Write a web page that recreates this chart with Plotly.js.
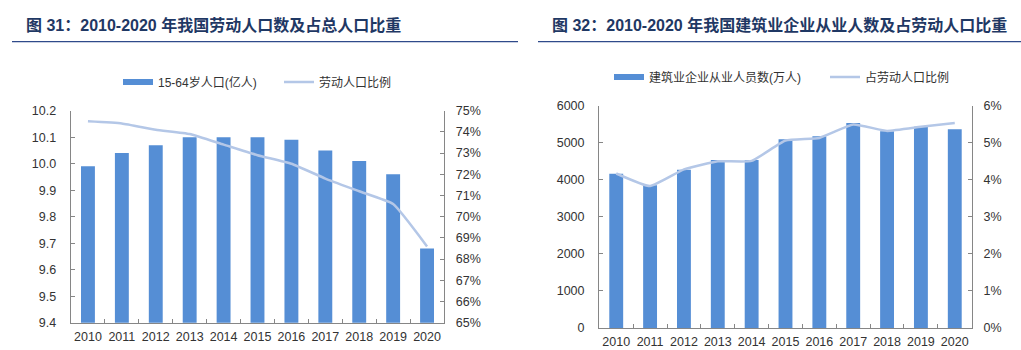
<!DOCTYPE html>
<html>
<head>
<meta charset="utf-8">
<script src="https://cdn.plot.ly/plotly-3.0.1.min.js"></script>
<style>html,body{margin:0;padding:0;background:#fff;}#chart{width:1021px;height:350px;}</style>
</head>
<body>
<div id="chart"></div>
<script>
// ---- data ----
const years = ['2010','2011','2012','2013','2014','2015','2016','2017','2018','2019','2020'];
const workingAgePop = [9.99, 10.04, 10.07, 10.10, 10.10, 10.10, 10.09, 10.05, 10.01, 9.96, 9.68];      // 亿人
const laborShare = [0.745, 0.744, 0.741, 0.739, 0.734, 0.729, 0.725, 0.718, 0.712, 0.706, 0.686];      // 占总人口
const constructionEmp = [4160, 3852, 4272, 4534, 4537, 5094, 5174, 5530, 5309, 5433, 5364];          // 万人
const constructionShare = [0.0417, 0.0383, 0.0428, 0.0450, 0.0451, 0.0506, 0.0513, 0.0549, 0.0532, 0.0543, 0.0553];

const title1 = '图 31：2010-2020 年我国劳动人口数及占总人口比重';
const title2 = '图 32：2010-2020 年我国建筑业企业从业人数及占劳动人口比重';
const name1 = '15-64岁人口(亿人)';
const name2 = '劳动人口比例';
const name3 = '建筑业企业从业人员数(万人)';
const name4 = '占劳动人口比例';

// ---- styling ----
const W = 1021, H = 350;
const px = v => v / W;
const py = v => 1 - v / H;
const barColor = '#558ED5';
const lineColor = '#B4C7E7';
const axisColor = '#868686';
const textColor = '#333333';
const fontFam = 'Liberation Sans, Arial, Noto Sans CJK SC, sans-serif';
const tickFont = {family: fontFam, size: 12.5, color: textColor};
const legFont = {family: fontFam, size: 12, color: textColor};

const traces = [
  {type: 'bar', x: years, y: workingAgePop, xaxis: 'x', yaxis: 'y', marker: {color: barColor}, width: 0.41, showlegend: false, name: name1},
  {type: 'scatter', mode: 'lines', x: years, y: laborShare, xaxis: 'x', yaxis: 'y2', line: {color: lineColor, width: 2.5, shape: 'spline', smoothing: 0.4}, showlegend: false, name: name2},
  {type: 'bar', x: years, y: constructionEmp, xaxis: 'x2', yaxis: 'y3', marker: {color: barColor}, width: 0.41, showlegend: false, name: name3},
  {type: 'scatter', mode: 'lines', x: years, y: constructionShare, xaxis: 'x2', yaxis: 'y4', line: {color: lineColor, width: 2.5, shape: 'spline', smoothing: 0.4}, showlegend: false, name: name4},
  // legend entries
  {type: 'scatter', mode: 'lines', x: [years[0]], y: [null], xaxis: 'x', yaxis: 'y', line: {color: barColor, width: 6}, name: name1, legend: 'legend', hoverinfo: 'skip'},
  {type: 'scatter', mode: 'lines', x: [years[0]], y: [null], xaxis: 'x', yaxis: 'y2', line: {color: lineColor, width: 2.5}, name: name2, legend: 'legend2', hoverinfo: 'skip'},
  {type: 'scatter', mode: 'lines', x: [years[0]], y: [null], xaxis: 'x2', yaxis: 'y3', line: {color: barColor, width: 6}, name: name3, legend: 'legend3', hoverinfo: 'skip'},
  {type: 'scatter', mode: 'lines', x: [years[0]], y: [null], xaxis: 'x2', yaxis: 'y4', line: {color: lineColor, width: 2.5}, name: name4, legend: 'legend4', hoverinfo: 'skip'}
];

const xCommon = {type: 'category', showline: true, linecolor: axisColor, linewidth: 1.3, ticks: 'inside', ticklen: 4, tickcolor: axisColor, tickson: 'boundaries', tickfont: tickFont, showgrid: false, zeroline: false, fixedrange: true, tickangle: 0, ticklabelstandoff: 2};
const yCommon = {showline: true, linecolor: axisColor, linewidth: 1.3, ticks: 'inside', ticklen: 4, tickcolor: axisColor, tickfont: tickFont, showgrid: false, zeroline: false, fixedrange: true};

const d1x = [px(71), px(444)], d1y = [py(322.7), py(110.7)];
const d2x = [px(599.3), px(971.7)], d2y = [py(328), py(105.7)];

const legBase = {orientation: 'h', xanchor: 'left', yanchor: 'middle', font: legFont, itemwidth: 30, bgcolor: 'rgba(0,0,0,0)', borderwidth: 0};

const layout = {
  width: W, height: H,
  margin: {l: 0, r: 0, t: 0, b: 0},
  paper_bgcolor: '#fff', plot_bgcolor: '#fff',
  bargap: 0.59,
  xaxis: Object.assign({}, xCommon, {domain: d1x, anchor: 'y'}),
  yaxis: Object.assign({}, yCommon, {domain: d1y, anchor: 'x', range: [9.4, 10.2], dtick: 0.1, tick0: 9.4, tickformat: '.1f', ticklabelstandoff: 11}),
  yaxis2: Object.assign({}, yCommon, {overlaying: 'y', side: 'right', anchor: 'x', range: [0.65, 0.75], dtick: 0.01, tick0: 0.65, tickformat: '.0%', ticklabelstandoff: 8}),
  xaxis2: Object.assign({}, xCommon, {domain: d2x, anchor: 'y3'}),
  yaxis3: Object.assign({}, yCommon, {domain: d2y, anchor: 'x2', range: [0, 6000], dtick: 1000, tickformat: 'd', ticklabelstandoff: 11}),
  yaxis4: Object.assign({}, yCommon, {overlaying: 'y3', side: 'right', anchor: 'x2', range: [0, 0.06], dtick: 0.01, tickformat: '.0%', ticklabelstandoff: 8}),
  legend: Object.assign({}, legBase, {x: px(118), y: py(82)}),
  legend2: Object.assign({}, legBase, {x: px(279), y: py(82)}),
  legend3: Object.assign({}, legBase, {x: px(609), y: py(77)}),
  legend4: Object.assign({}, legBase, {x: px(825), y: py(77)}),
  annotations: [
    {text: '<b>' + title1 + '</b>', xref: 'paper', yref: 'paper', x: px(24), y: py(25), xanchor: 'left', yanchor: 'middle', showarrow: false, font: {family: fontFam, size: 16, color: '#1F3864'}},
    {text: '<b>' + title2 + '</b>', xref: 'paper', yref: 'paper', x: px(550), y: py(25), xanchor: 'left', yanchor: 'middle', showarrow: false, font: {family: fontFam, size: 16, color: '#1F3864'}}
  ],
  shapes: [
    {type: 'line', xref: 'paper', yref: 'paper', x0: px(12), x1: px(518), y0: py(41.7), y1: py(41.7), line: {color: '#2F4A8A', width: 1.2}},
    {type: 'line', xref: 'paper', yref: 'paper', x0: px(538), x1: px(1021), y0: py(41.7), y1: py(41.7), line: {color: '#2F4A8A', width: 1.2}}
  ]
};

Plotly.newPlot('chart', traces, layout, {displayModeBar: false, staticPlot: true});
</script>
</body>
</html>
